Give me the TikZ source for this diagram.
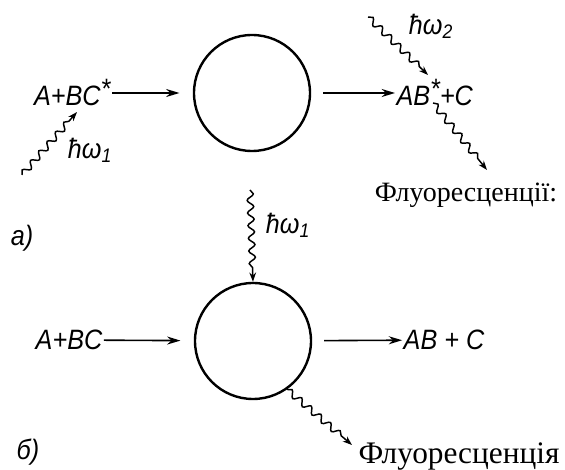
\documentclass[tikz,border=0pt]{standalone}
\usepackage{fontspec}
\setmainfont{Liberation Serif}
\newfontfamily\labelfont[FakeStretch=0.9]{Liberation Sans}
\usetikzlibrary{arrows.meta,decorations.pathmorphing,positioning}

\tikzset{
    chamber/.style={circle, draw, line width=1.8pt, minimum size=87pt, inner sep=0pt},
    species/.style={font=\labelfont\itshape\fontsize{21}{21}\selectfont, inner sep=1pt},
    caption/.style={font=\fontsize{21}{21}\selectfont, inner sep=0pt},
    flow/.style={-{Stealth[length=10pt,width=6pt]}, line width=1.2pt},
    photon/.style={-{Stealth[length=7pt,width=5pt]}, line width=1.1pt, decorate,
        decoration={snake, amplitude=2.4pt, segment length=9.5pt, post length=7pt}}
}

\begin{document}
\begin{tikzpicture}[x=0.75pt, y=-0.75pt]
\useasboundingbox (0,0) rectangle (565,470);

% a) excited reagent
\node[chamber] (chamberA) at (252,93) {};
\node[species, anchor=east] (reactA) at (112,93) {A+BC\raisebox{0.25em}{*}};
\node[species, anchor=west] (prodA) at (395,93) {AB\raisebox{0.25em}{*}+C};
\draw[flow, shorten >=10pt] (reactA) -- (chamberA);
\draw[flow, shorten <=9pt] (chamberA) -- (prodA);
\coordinate (srcA) at (22,175);
\coordinate (hitA) at (77,112);
\draw[photon] (srcA) -- (hitA);
\node[species] (hwA) at (90,150) {ħω\textsubscript{1}};
\coordinate (srcB) at (368,17);
\coordinate (hitB) at (428,75);
\draw[photon] (srcB) -- (hitB);
\node[species] (hwB) at (431,26) {ħω\textsubscript{2}};
\coordinate (emitA) at (433,103);
\coordinate (outA) at (487,170);
\draw[photon] (emitA) -- (outA);
\node[caption] (fluoA) at (466,195) {Флуоресценції:};
\node[species] (tagA) at (22,238) {а)};

% b) light absorbed in the complex
\node[chamber] (chamberB) at (253,341) {};
\node[species] (reactB) at (69,340) {A+BC};
\node[species] (prodB) at (444,340) {AB + C};
\draw[flow, shorten >=10pt] (reactB) -- (chamberB);
\draw[flow, shorten <=9pt] (chamberB) -- (prodB);
\coordinate (srcC) at (250,190);
\draw[photon] (srcC) -- (chamberB.north);
\node[species] (hwC) at (288,225) {ħω\textsubscript{1}};
\coordinate (outB) at (352,445);
\draw[photon] (chamberB.-55) -- (outB);
\node[caption, font=\fontsize{23.5}{23.5}\selectfont] (fluoB) at (459,457) {Флуоресценція};
\node[species] (tagB) at (28,452) {б)};
\end{tikzpicture}
\end{document}
